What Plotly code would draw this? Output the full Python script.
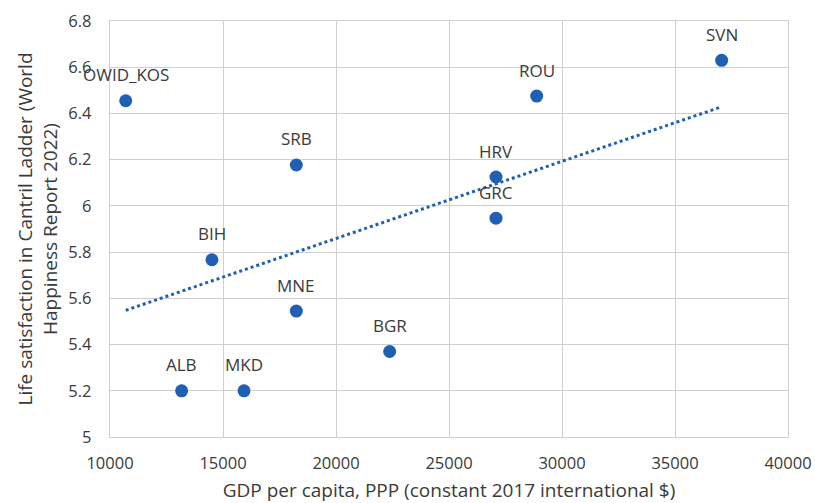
import numpy as np
import plotly.graph_objects as go

# Balkan countries: GDP per capita (PPP, constant 2017 intl $) vs life satisfaction
codes = ["OWID_KOS", "ALB", "BIH", "MKD", "SRB", "MNE", "BGR", "GRC", "HRV", "ROU", "SVN"]
gdp = [10695, 13170, 14510, 15930, 18245, 18245, 22375, 27080, 27080, 28880, 37065]
ladder = [6.455, 5.20, 5.767, 5.20, 6.177, 5.545, 5.37, 5.947, 6.125, 6.475, 6.63]

x_ticks = [10000, 15000, 20000, 25000, 30000, 35000, 40000]
y_ticks = [5, 5.2, 5.4, 5.6, 5.8, 6, 6.2, 6.4, 6.6, 6.8]

FONT = "Open Sans, Carlito, Calibri, sans-serif"
BLUE = "#1f5fb4"
TEXT = "#3a3a3a"
GRID = "#d0d0d0"

# Linear trendline over the range of the data
slope, intercept = np.polyfit(gdp, ladder, 1)
trend_x = np.array([min(gdp), max(gdp)])
trend_y = slope * trend_x + intercept

fig = go.Figure()
fig.add_trace(go.Scatter(
    x=trend_x, y=trend_y, mode="lines",
    line=dict(color=BLUE, width=3, dash="dot"),
    hoverinfo="skip", showlegend=False,
))
fig.add_trace(go.Scatter(
    x=gdp, y=ladder, mode="markers",
    marker=dict(color=BLUE, size=13),
    text=codes, showlegend=False,
))

for c, xv, yv in zip(codes, gdp, ladder):
    fig.add_annotation(
        x=xv, y=yv, text=c, showarrow=False, yshift=26,
        font=dict(family=FONT, size=17, color=TEXT),
    )

fig.update_layout(
    width=815, height=503,
    margin=dict(l=110, r=27, t=21, b=66),
    paper_bgcolor="white", plot_bgcolor="white",
    font=dict(family=FONT, size=17, color=TEXT),
)
fig.update_xaxes(
    range=[10000, 40000], tickvals=x_ticks, ticktext=[str(v) for v in x_ticks],
    tickfont=dict(family=FONT, size=16.5, color=TEXT),
    showgrid=True, gridcolor=GRID, gridwidth=1.3,
    showline=True, linecolor=GRID, linewidth=1.3, mirror=True,
    zeroline=False, ticks="", ticklabelstandoff=11,
    title=dict(text="GDP per capita, PPP (constant 2017 international $)",
               font=dict(family=FONT, size=19, color=TEXT), standoff=11),
    automargin=False,
)
fig.update_yaxes(
    range=[5, 6.8], tickvals=y_ticks, ticktext=[f"{v:g}" for v in y_ticks],
    tickfont=dict(family=FONT, size=16.5, color=TEXT),
    showgrid=True, gridcolor=GRID, gridwidth=1.3,
    showline=True, linecolor=GRID, linewidth=1.3, mirror=True,
    zeroline=False, ticks="", ticklabelstandoff=14,
    title=dict(text="Life satisfaction in Cantril Ladder (World<br>Happiness Report 2022)",
               font=dict(family=FONT, size=19, color=TEXT), standoff=5),
    automargin=False,
)

fig.write_html("out.html")
